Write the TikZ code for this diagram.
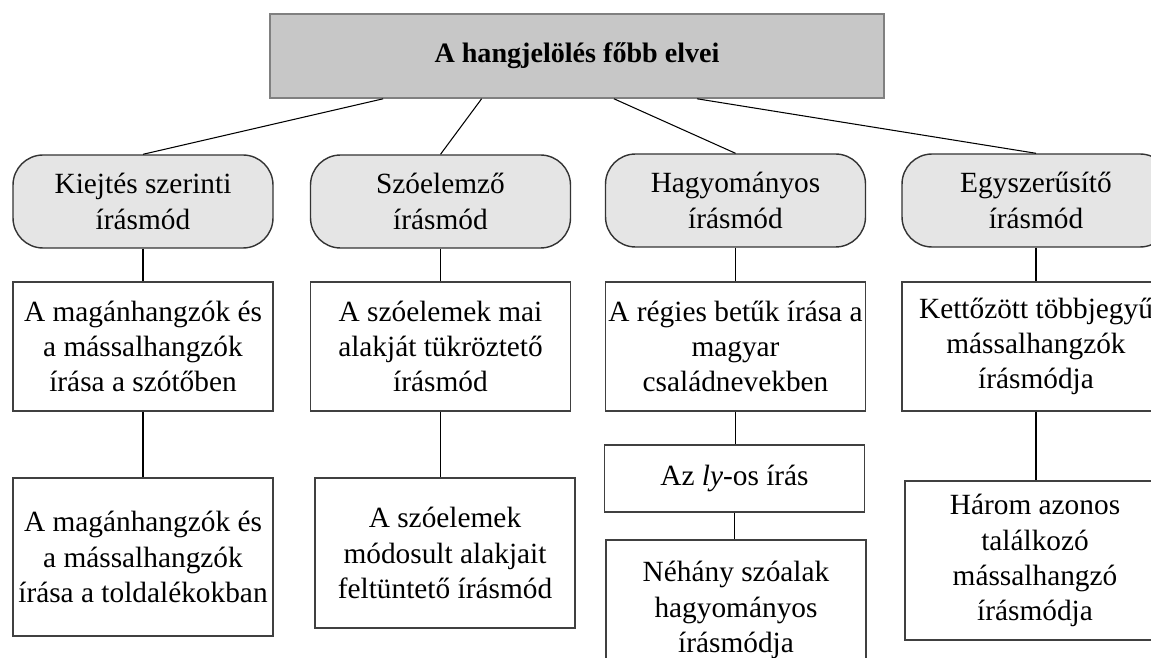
\documentclass[tikz,border=0pt]{standalone}
\usepackage{fontspec}
\setmainfont{Liberation Serif}
\usetikzlibrary{calc}

\begin{document}
\begin{tikzpicture}[x=0.02cm,y=-0.02cm,
	every node/.style={font=\fontsize{16.7}{20}\selectfont,align=center,inner sep=0pt},
	fo/.style={draw=white!50!black,fill=white!78!black,line width=0.9pt,minimum width=12.28cm,minimum height=1.68cm},
	kat/.style={draw=white!20!black,fill=white!90!black,rounded corners=0.6cm,line width=0.8pt,minimum width=5.2cm,minimum height=1.86cm},
	doboz/.style={draw=white!25!black,fill=white,line width=0.8pt,minimum width=5.2cm},
	vonal/.style={draw=black,line width=0.6pt}]
		\useasboundingbox (0,0) rectangle (1151,658);
		\node (fo) at (577,56) [fo] {\fontsize{16}{19}\selectfont\textbf{A hangjelölés főbb elvei}};
		% kategoriak
		\node (k1) at (143,201.5) [kat] {Kiejtés szerinti\\írásmód};
		\node (k2) at (440.5,201.5) [kat] {Szóelemző\\írásmód};
		\node (k3) at (735.5,200.5) [kat] {Hagyományos\\írásmód};
		\node (k4) at (1036,200.5) [kat,minimum width=5.36cm] {Egyszerűsítő\\írásmód};
		% masodik sor
		\node (d1) at (143,346.5) [doboz,minimum height=2.58cm] {A magánhangzók és\\a mássalhangzók\\írása a szótőben};
		\node (d2) at (440.5,346.5) [doboz,minimum height=2.58cm] {A szóelemek mai\\alakját tükröztető\\írásmód};
		\node (d3) at (735.5,346.5) [doboz,minimum height=2.58cm] {A régies betűk írása a\\magyar\\családnevekben};
		\node (d4) at (1036,346.5) [doboz,minimum height=2.58cm,minimum width=5.36cm] {Kettőzött többjegyű\\mássalhangzók\\írásmódja};
		% harmadik sor
		\node (e1) at (143,557) [doboz,minimum height=3.16cm] {A magánhangzók és\\a mássalhangzók\\írása a toldalékokban};
		\node (e2) at (445,553) [doboz,minimum height=3.0cm] {A szóelemek\\módosult alakjait\\feltüntető írásmód};
		\node (ly) at (734.5,478.5) [doboz,minimum height=1.34cm] {Az \textit{ly}-os írás};
		\node (nehany) at (736,610) [doboz,minimum height=2.8cm] {Néhány szóalak\\hagyományos\\írásmódja};
		\node (e4) at (1035,560.5) [doboz,minimum height=3.18cm,minimum width=5.2cm] {Három azonos\\találkozó\\mássalhangzó\\írásmódja};
		% vonalak
		\path [vonal] ($(fo.south west)!0.185!(fo.south east)$) -- (k1.north);
		\path [vonal] ($(fo.south west)!0.345!(fo.south east)$) -- (k2.north);
		\path [vonal] ($(fo.south west)!0.56!(fo.south east)$) -- (k3.north);
		\path [vonal] ($(fo.south west)!0.695!(fo.south east)$) -- (k4.north);
		\path [vonal] (k1.south) -- (k1.south |- d1.north);
		\path [vonal] (k2.south) -- (k2.south |- d2.north);
		\path [vonal] (k3.south) -- (k3.south |- d3.north);
		\path [vonal] (k4.south) -- (k4.south |- d4.north);
		\path [vonal] (d1.south) -- (d1.south |- e1.north);
		\path [vonal] (d2.south) -- (d2.south |- e2.north);
		\path [vonal] (d3.south) -- (d3.south |- ly.north);
		\path [vonal] (ly.south) -- (ly.south |- nehany.north);
		\path [vonal] (d4.south) -- (d4.south |- e4.north);
	\end{tikzpicture}
\end{document}
